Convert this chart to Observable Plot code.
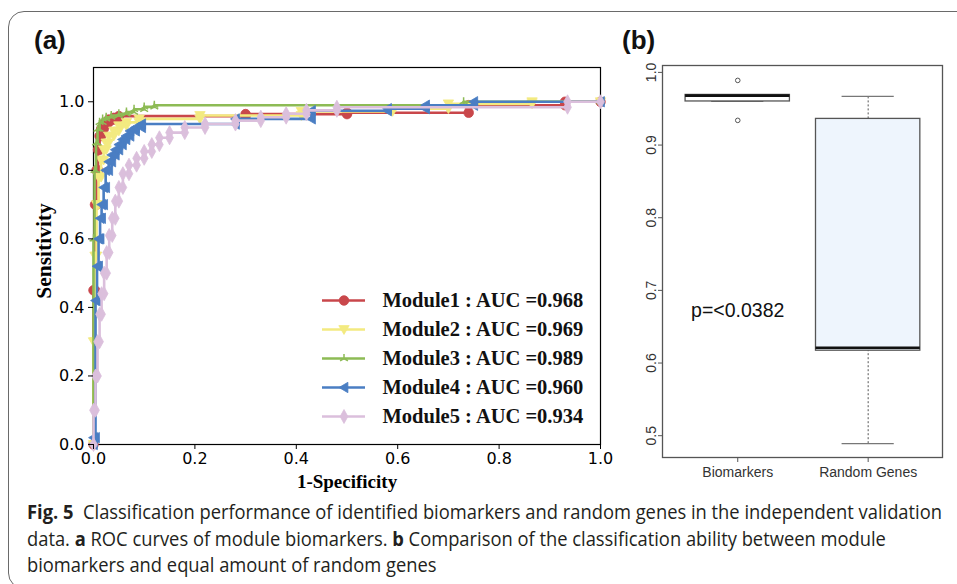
<!DOCTYPE html>
<html><head><meta charset="utf-8">
<script src="https://cdn.jsdelivr.net/npm/d3@7"></script>
<script src="https://cdn.jsdelivr.net/npm/@observablehq/plot@0.6"></script>
<style>
html,body{margin:0;padding:0;background:#fff;width:957px;height:584px;overflow:hidden;}
#page{position:relative;width:957px;height:584px;overflow:hidden;background:#fff;}
#border{position:absolute;left:8px;top:10.5px;width:990px;height:578px;border:1.5px solid #6a6a6a;border-radius:16px;box-sizing:border-box;}
.panel{position:absolute;}
.tag{position:absolute;font-family:"Liberation Sans",Arial,sans-serif;font-weight:bold;font-size:26px;line-height:30px;color:#111;}
#caption{position:absolute;left:27px;top:499px;font-family:"Open Sans","Liberation Sans",sans-serif;font-size:20px;line-height:26.5px;color:#231f20;white-space:nowrap;transform-origin:0 0;}
#caption div{display:block;}
#caption span.ln{display:inline-block;}
#caption b{font-weight:bold;}
</style>
</head><body>
<div id="page">
  <div id="border"></div>
  <div id="plotA" class="panel" style="left:0;top:0"></div>
  <div id="legendA" class="panel" style="left:315px;top:285px"></div>
  <div id="plotB" class="panel" style="left:620px;top:0"></div>
  <div class="tag" style="left:34px;top:25px">(a)</div>
  <div class="tag" style="left:622px;top:25px">(b)</div>
  <div id="caption"></div>
</div>
<script>
// ---------- Data: panel (a) ROC curves ----------
const moduleNames = ["Module1", "Module2", "Module3", "Module4", "Module5"];
const moduleAUC = ["0.968", "0.969", "0.989", "0.960", "0.934"];
const moduleColors = ["#c9474b", "#f3ea80", "#8dbb55", "#4a7ec3", "#dbbfdc"];

const m1Fpr = [0, 0, 0.003, 0.003, 0.006, 0.006, 0.009, 0.009, 0.012, 0.012, 0.015, 0.015, 0.02, 0.02, 0.025, 0.025, 0.03, 0.03, 0.04, 0.04, 0.05, 0.05, 0.3, 0.3, 0.5, 0.5, 0.74, 0.74, 0.93, 0.93, 1.0];
const m1Tpr = [0, 0.45, 0.45, 0.7, 0.7, 0.8, 0.8, 0.86, 0.86, 0.9, 0.9, 0.92, 0.92, 0.935, 0.935, 0.94, 0.94, 0.948, 0.948, 0.953, 0.953, 0.958, 0.958, 0.964, 0.964, 0.968, 0.968, 0.99, 0.99, 1.0, 1.0];

const m2Fpr = [0, 0, 0.003, 0.003, 0.006, 0.006, 0.01, 0.01, 0.015, 0.015, 0.02, 0.02, 0.025, 0.025, 0.03, 0.03, 0.04, 0.04, 0.05, 0.05, 0.065, 0.065, 0.09, 0.09, 0.21, 0.21, 0.41, 0.41, 0.59, 0.59, 0.7, 0.7, 0.865, 0.865, 1.0];
const m2Tpr = [0, 0.3, 0.3, 0.55, 0.55, 0.7, 0.7, 0.78, 0.78, 0.83, 0.83, 0.86, 0.86, 0.88, 0.88, 0.9, 0.9, 0.915, 0.915, 0.93, 0.93, 0.94, 0.94, 0.95, 0.95, 0.96, 0.96, 0.972, 0.972, 0.98, 0.98, 0.994, 0.994, 1.0, 1.0];

const m3Fpr = [0, 0, 0.002, 0.002, 0.005, 0.005, 0.008, 0.008, 0.012, 0.012, 0.018, 0.018, 0.025, 0.025, 0.035, 0.035, 0.05, 0.05, 0.065, 0.065, 0.08, 0.08, 0.1, 0.1, 0.12, 0.12, 0.73, 0.73, 1.0];
const m3Tpr = [0, 0.6, 0.6, 0.8, 0.8, 0.88, 0.88, 0.92, 0.92, 0.94, 0.94, 0.95, 0.95, 0.955, 0.955, 0.96, 0.96, 0.965, 0.965, 0.97, 0.97, 0.978, 0.978, 0.985, 0.985, 0.99, 0.99, 1.0, 1.0];

const m4Fpr = [0, 0, 0.004, 0.004, 0.007, 0.007, 0.01, 0.01, 0.013, 0.013, 0.016, 0.016, 0.02, 0.02, 0.024, 0.024, 0.03, 0.03, 0.036, 0.036, 0.043, 0.043, 0.05, 0.05, 0.057, 0.057, 0.064, 0.064, 0.072, 0.072, 0.083, 0.083, 0.095, 0.095, 0.28, 0.28, 0.43, 0.43, 0.58, 0.58, 0.655, 0.655, 0.75, 0.75, 1.0];
const m4Tpr = [0, 0.02, 0.02, 0.42, 0.42, 0.52, 0.52, 0.6, 0.6, 0.66, 0.66, 0.7, 0.7, 0.75, 0.75, 0.8, 0.8, 0.825, 0.825, 0.845, 0.845, 0.86, 0.86, 0.875, 0.875, 0.89, 0.89, 0.9, 0.9, 0.915, 0.915, 0.925, 0.925, 0.935, 0.935, 0.95, 0.95, 0.974, 0.974, 0.98, 0.98, 0.99, 0.99, 1.0, 1.0];

const m5Fpr = [0, 0, 0.004, 0.004, 0.008, 0.008, 0.012, 0.012, 0.016, 0.016, 0.021, 0.021, 0.026, 0.026, 0.031, 0.031, 0.037, 0.037, 0.043, 0.043, 0.05, 0.05, 0.058, 0.058, 0.07, 0.07, 0.085, 0.085, 0.1, 0.1, 0.115, 0.115, 0.13, 0.13, 0.15, 0.15, 0.18, 0.18, 0.22, 0.22, 0.28, 0.28, 0.33, 0.33, 0.38, 0.38, 0.42, 0.42, 0.48, 0.48, 0.935, 0.935, 1.0];
const m5Tpr = [0, 0.1, 0.1, 0.2, 0.2, 0.3, 0.3, 0.38, 0.38, 0.44, 0.44, 0.5, 0.5, 0.56, 0.56, 0.61, 0.61, 0.66, 0.66, 0.71, 0.71, 0.75, 0.75, 0.79, 0.79, 0.815, 0.815, 0.835, 0.835, 0.855, 0.855, 0.875, 0.875, 0.895, 0.895, 0.91, 0.91, 0.925, 0.925, 0.935, 0.935, 0.945, 0.945, 0.955, 0.955, 0.965, 0.965, 0.975, 0.975, 0.984, 0.984, 1.0, 1.0];

const rocFpr = [m1Fpr, m2Fpr, m3Fpr, m4Fpr, m5Fpr];
const rocTpr = [m1Tpr, m2Tpr, m3Tpr, m4Tpr, m5Tpr];

const rocXTicks = [0, 0.2, 0.4, 0.6, 0.8, 1.0];
const rocYTicks = [0, 0.2, 0.4, 0.6, 0.8, 1.0];
const rocXLabel = "1-Specificity";
const rocYLabel = "Sensitivity";

// ---------- Data: panel (b) boxplot ----------
const boxGroups = ["Biomarkers", "Random Genes"];
const biomarkerAUC = [0.968, 0.969, 0.989, 0.960, 0.934];
const randomAUC = [0.489, 0.617, 0.621, 0.936, 0.967];
const boxFills = ["#ffffff", "#eef5fd"];
const boxYTicks = [0.5, 0.6, 0.7, 0.8, 0.9, 1.0];
const annotationText = ["p=<0.0382"];
const annotationGroup = [1];
const annotationValue = [0.672];

const captionLines = [
  '<b>Fig. 5</b>&nbsp; Classification performance of identified biomarkers and random genes in the independent validation',
  'data. <b>a</b> ROC curves of module biomarkers. <b>b</b> Comparison of the classification ability between module',
  'biomarkers and equal amount of random genes'
];

// ---------- Marker symbols ----------
const rad = s => Math.sqrt(s / Math.PI);
const symCircle = {draw(c, s) { const r = rad(s); c.moveTo(r, 0); c.arc(0, 0, r, 0, 2 * Math.PI); }};
const symTriDown = {draw(c, s) { const r = rad(s); c.moveTo(-r, -r * 0.75); c.lineTo(r, -r * 0.75); c.lineTo(0, r * 0.95); c.closePath(); }};
const symTriUp3 = {draw(c, s) { const r = rad(s); c.moveTo(0, 0); c.lineTo(0, -r); c.moveTo(0, 0); c.lineTo(-r * 0.87, r * 0.5); c.moveTo(0, 0); c.lineTo(r * 0.87, r * 0.5); }};
const symTriLeft = {draw(c, s) { const r = rad(s); c.moveTo(-r * 0.95, 0); c.lineTo(r * 0.75, -r); c.lineTo(r * 0.75, r); c.closePath(); }};
const symThinDiamond = {draw(c, s) { const r = rad(s); c.moveTo(0, -r); c.lineTo(r * 0.55, 0); c.lineTo(0, r); c.lineTo(-r * 0.55, 0); c.closePath(); }};
const moduleSymbols = [symCircle, symTriDown, symTriUp3, symTriLeft, symThinDiamond];
const moduleR = [4.8, 5.2, 4.5, 5.2, 7];
const moduleFilled = [true, true, false, true, true];

const modules = moduleNames.map((name, i) => ({
  name, auc: moduleAUC[i], color: moduleColors[i], symbol: moduleSymbols[i], r: moduleR[i], filled: moduleFilled[i],
  rows: rocFpr[i].map((f, j) => ({fpr: f, tpr: rocTpr[i][j]}))
}));

// ---------- Panel (a) ----------
const marksA = [Plot.frame({stroke: "black", strokeWidth: 1.2})];
for (const m of modules) {
  marksA.push(Plot.line(m.rows, {x: "fpr", y: "tpr", stroke: m.color, strokeWidth: 2.6}));
  marksA.push(Plot.dot(m.rows, {x: "fpr", y: "tpr", symbol: m.symbol, r: m.r,
    fill: m.filled ? m.color : "none", stroke: m.color, strokeWidth: m.filled ? 0.8 : 1.5}));
}
marksA.push(
  Plot.axisX({ticks: rocXTicks, tickFormat: d3.format(".1f"), tickSize: 5, tickPadding: 3, label: null, fontSize: 16}),
  Plot.axisY({ticks: rocYTicks, tickFormat: d3.format(".1f"), tickSize: 5, tickPadding: 4, label: null, fontSize: 16}),
  Plot.text([rocXLabel], {frameAnchor: "bottom", dy: 37, text: d => d, textAnchor: "middle", lineAnchor: "middle",
    fontFamily: "Liberation Serif", fontWeight: "bold", fontSize: 19}),
  Plot.text([rocYLabel], {frameAnchor: "left", dx: -49, dy: -5, rotate: -90, text: d => d, textAnchor: "middle", lineAnchor: "middle",
    fontFamily: "Liberation Serif", fontWeight: "bold", fontSize: 21.5})
);
const plotA = Plot.plot({
  width: 620, height: 500, marginLeft: 93, marginRight: 20, marginTop: 67, marginBottom: 56,
  x: {domain: [0, 1], label: null}, y: {domain: [0, 1.1], label: null},
  style: {fontFamily: "DejaVu Sans", fontSize: "16px", color: "black", background: "transparent", overflow: "visible"},
  marks: marksA
});
document.getElementById("plotA").appendChild(plotA);

// ---------- Legend for (a) ----------
const legendMarks = [];
for (const m of modules) {
  legendMarks.push(Plot.ruleY([m], {y: "name", x1: () => 0, x2: () => 1, stroke: m.color, strokeWidth: 2.6}));
  legendMarks.push(Plot.dot([m], {x: () => 0.5, y: "name", symbol: m.symbol, r: m.r,
    fill: m.filled ? m.color : "none", stroke: m.color, strokeWidth: m.filled ? 0.8 : 1.5}));
  legendMarks.push(Plot.text([m], {x: () => 1, y: "name", dx: 17, text: d => `${d.name} : AUC =${d.auc}`, textAnchor: "start",
    fontFamily: "Liberation Serif", fontWeight: "bold", fontSize: 20.5, fill: "#111"}));
}
const legend = Plot.plot({
  width: 280, height: 145, margin: 0,
  x: {domain: [0, 1], range: [7, 50], axis: null},
  y: {type: "point", domain: moduleNames, range: [15, 131], padding: 0, axis: null},
  style: {background: "transparent", overflow: "visible"},
  marks: legendMarks
});
document.getElementById("legendA").appendChild(legend);

// ---------- Panel (b) ----------
function boxStats(values, pos) {
  const s = values.slice().sort(d3.ascending);
  const q1 = d3.quantile(s, 0.25), median = d3.quantile(s, 0.5), q3 = d3.quantile(s, 0.75);
  const iqr = q3 - q1;
  const inside = s.filter(v => v >= q1 - 1.5 * iqr && v <= q3 + 1.5 * iqr);
  return {pos, q1, median, q3, lo: d3.min(inside), hi: d3.max(inside),
    outliers: s.filter(v => v < q1 - 1.5 * iqr || v > q3 + 1.5 * iqr)};
}
const stats = [boxStats(biomarkerAUC, 1), boxStats(randomAUC, 2)].map((d, i) => ({...d, fill: boxFills[i]}));
const outliers = stats.flatMap(d => d.outliers.map(v => ({pos: d.pos, value: v})));
const annotations = annotationText.map((t, i) => ({text: t, pos: annotationGroup[i], value: annotationValue[i]}));
const half = 0.4, capHalf = 0.2;

const plotB = Plot.plot({
  width: 337, height: 500, marginLeft: 42, marginRight: 15, marginTop: 65, marginBottom: 43,
  x: {domain: [0.423, 2.57], label: null}, y: {domain: [0.470, 1.0095], label: null},
  style: {fontFamily: "Liberation Sans", fontSize: "14px", color: "#333", background: "transparent", overflow: "visible"},
  marks: [
    Plot.ruleX(stats, {x: "pos", y1: "q3", y2: "hi", stroke: "#555", strokeWidth: 1, strokeDasharray: "2,2"}),
    Plot.ruleX(stats, {x: "pos", y1: "lo", y2: "q1", stroke: "#555", strokeWidth: 1, strokeDasharray: "2,2"}),
    Plot.ruleY(stats, {y: "hi", x1: d => d.pos - capHalf, x2: d => d.pos + capHalf, stroke: "#777", strokeWidth: 1.3}),
    Plot.ruleY(stats, {y: "lo", x1: d => d.pos - capHalf, x2: d => d.pos + capHalf, stroke: "#777", strokeWidth: 1.3}),
    Plot.rect(stats, {x1: d => d.pos - half, x2: d => d.pos + half, y1: "q1", y2: "q3", fill: "fill", stroke: "#555", strokeWidth: 1.3}),
    Plot.ruleY(stats, {y: "median", x1: d => d.pos - half, x2: d => d.pos + half, stroke: "#111", strokeWidth: 2.6}),
    Plot.dot(outliers, {x: "pos", y: "value", r: 2.3, stroke: "#555", fill: "none", strokeWidth: 1}),
    Plot.text(annotations, {x: "pos", y: "value", text: "text", fontSize: 19.5, fill: "#111", fontFamily: "Liberation Sans"}),
    Plot.frame({stroke: "#555", strokeWidth: 1.3}),
    Plot.axisY({ticks: boxYTicks, tickFormat: d3.format(".1f"), tickRotate: -90, tickSize: 4, tickPadding: 3, label: null, stroke: "#555"}),
    Plot.axisX({ticks: [1, 2], tickFormat: i => boxGroups[i - 1], tickSize: 5, tickPadding: 5, label: null, stroke: "#555"})
  ]
});
document.getElementById("plotB").appendChild(plotB);

// ---------- Caption (condensed to match the reference width) ----------
const cap = document.getElementById("caption");
cap.innerHTML = captionLines.map(l => `<div><span class="ln">${l}</span></div>`).join("");
const firstW = cap.querySelector("span.ln").getBoundingClientRect().width;
const k = Math.min(1, 915 / firstW);
cap.style.transform = `scaleX(${k})`;
</script>
</body></html>
